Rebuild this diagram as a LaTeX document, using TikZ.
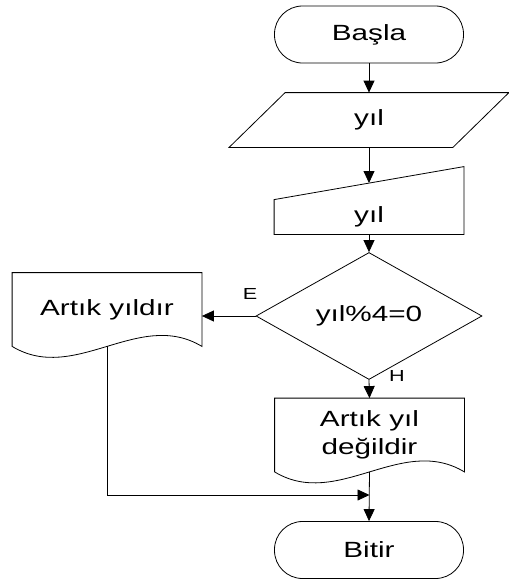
\documentclass[tikz,border=0pt]{standalone}
\usepackage{fontspec}
\setmainfont{Liberation Sans}[FakeStretch=1.35]
\usetikzlibrary{shapes.geometric, arrows.meta}
\newcommand{\docshape}[1]{\draw (#1.south west) .. controls ([xshift=63pt, yshift=-38pt]#1.south west) and ([xshift=-63pt, yshift=38pt]#1.south east) .. (#1.south east) -- (#1.north east) -- (#1.north west) -- cycle;}

\begin{document}
\begin{tikzpicture}[x=1pt, y=-1pt, line width=0.8pt,
   every node/.style={font=\fontsize{22}{28}\selectfont},
   term/.style={draw, rectangle, rounded corners=28pt, minimum width=189pt, minimum height=57pt},
   frame/.style={rectangle, inner sep=0pt, align=center},
   doc/.style={frame, minimum width=189pt, minimum height=73pt},
   dec/.style={draw, diamond, inner sep=0pt, minimum width=226pt, minimum height=108pt},
   arr/.style={-{Triangle[length=12pt, width=11pt]}},
   lbl/.style={font=\fontsize{16}{18}\selectfont}]
  \useasboundingbox (0,0) rectangle (509,579);
  \node[term] (start) at (369,34.5) {Başla};
  \node[frame, minimum width=223pt, minimum height=54pt] (in) at (369,120) {yıl};
  \draw ([xshift=28pt]in.north west) -- ([xshift=28pt]in.north east) -- ([xshift=-28pt]in.south east) -- ([xshift=-28pt]in.south west) -- cycle;
  \node[frame, minimum width=189pt, minimum height=34pt] (rd) at (369,217) {yıl};
  \draw (rd.south west) -- (rd.north west) -- ([yshift=33pt]rd.north east) -- (rd.south east) -- cycle;
  \coordinate (rdtop) at (369,183);
  \node[dec] (test) at (369,316) {yıl\%4=0};
  \node[doc] (yes) at (107,309.5) {Artık yıldır};
  \docshape{yes}
  \node[doc] (no) at (369.5,435) {Artık yıl\\değildir};
  \docshape{no}
  \node[term] (stop) at (369,550) {Bitir};
  \coordinate (join) at (369.5,495);
  \node[lbl] (e) at (250,294) {E};
  \node[lbl] (h) at (397,376) {H};
  % connectors
  \draw[arr] (start) -- (in);
  \draw[arr] (in) -- (rdtop);
  \draw[arr] (rd) -- (test);
  \draw[arr] (test.west) -- (test.west -| yes.east);
  \draw[arr] (test.south) -- (no.north);
  \draw[arr] (yes.south) |- (join);
  \draw[arr] (no.south) -- (stop.north);
\end{tikzpicture}
\end{document}
